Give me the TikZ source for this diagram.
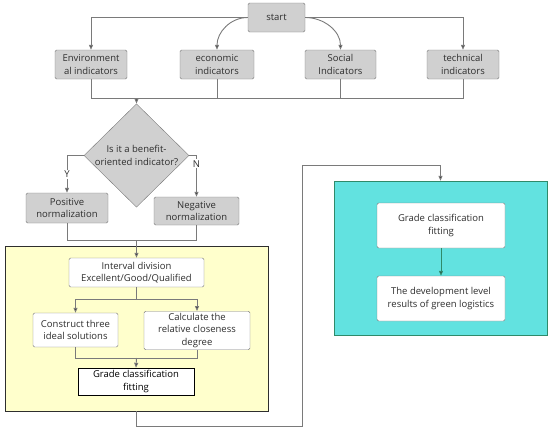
\documentclass[tikz,border=0pt]{standalone}
\usepackage{fontspec}
\setmainfont{Open Sans}
\usetikzlibrary{arrows.meta, positioning, shapes.geometric}
\definecolor{boxgray}{HTML}{D0D0D0}
\definecolor{edgegray}{HTML}{7A7A7A}
\definecolor{textgray}{HTML}{2E2E2E}
\definecolor{stageyellow}{HTML}{FFFFCC}
\definecolor{stageteal}{HTML}{62E2E0}
\definecolor{tealedge}{HTML}{2F8A6A}

\begin{document}
\begin{tikzpicture}[
    x=1pt, y=-1pt,
    font=\fontsize{9.5}{12.5}\selectfont,
    every node/.style={align=center, text=textgray},
    gbox/.style={rectangle, draw=edgegray, rounded corners=1.5pt, fill=boxgray, minimum height=29pt, inner sep=2pt},
    wbox/.style={rectangle, draw=edgegray, rounded corners=1.5pt, fill=white, inner sep=2pt},
    decide/.style={diamond, draw=edgegray, fill=boxgray, minimum width=105pt, minimum height=77pt, inner sep=0pt},
    stage/.style={rectangle, inner sep=0pt},
    gline/.style={draw=edgegray, line width=0.9pt},
    line/.style={draw=edgegray, line width=0.9pt, arrows={-{Triangle[length=5pt,width=4pt,fill=textgray]}}},
    lab/.style={fill=white, inner sep=1pt}
]
\useasboundingbox (0,0) rectangle (550,431);
% background stages
\node[stage, draw=textgray, fill=stageyellow, minimum width=263pt, minimum height=165pt] (evalstage) at (136.5,328.5) {};
\node[stage, draw=tealedge, fill=stageteal, minimum width=213pt, minimum height=154pt] (resultstage) at (440.5,258) {};

% indicators
\node[gbox, minimum width=57pt] (start) at (276.5,17.5) {start};
\node[gbox, minimum width=72pt] (env) at (91,64.5) {Environment\\al indicators};
\node[gbox, minimum width=74pt] (econ) at (217,64.5) {economic\\indicators};
\node[gbox, minimum width=71pt] (social) at (340.5,64.5) {Social\\Indicators};
\node[gbox, minimum width=72pt] (tech) at (463,64.5) {technical\\indicators};

% normalization
\node[decide] (benefit) at (136.5,155.5) {Is it a benefit-\\oriented indicator?};
\node[gbox, minimum width=82pt, minimum height=30pt] (posnorm) at (67,208) {Positive\\normalization};
\node[gbox, minimum width=85pt, minimum height=28pt] (negnorm) at (196.5,211) {Negative\\normalization};

% evaluation
\node[wbox, minimum width=135pt, minimum height=29pt] (interval) at (136.5,272.5) {Interval division\\Excellent/Good/Qualified};
\node[wbox, minimum width=85pt, minimum height=34pt] (ideal) at (75.5,330) {Construct three\\ideal solutions};
\node[wbox, minimum width=106pt, minimum height=37pt] (closeness) at (197,330.5) {Calculate the\\relative closeness\\degree};
\node[rectangle, draw=black, fill=white, text=black, minimum width=116pt, minimum height=27pt, inner sep=2pt] (grade) at (136,381.5) {Grade classification\\fitting};

% results
\node[wbox, minimum width=128pt, minimum height=45pt] (fitting) at (441,225.5) {Grade classification\\fitting};
\node[wbox, minimum width=128pt, minimum height=45pt] (level) at (441,298.5) {The development level\\results of green logistics};

\coordinate (collect) at (136.5,98);
\coordinate (joinnorm) at (136.5,240);
\coordinate (split) at (136.5,299);
\coordinate (joineval) at (136.5,358);
\coordinate (lowturn) at (302,426);
\coordinate (highturn) at (302,165);

\draw[line] (start.west) -| (env.north);
\draw[line] (start.east) -| (tech.north);
\draw[line] (start.west) to[out=180, in=90] (econ.north);
\draw[line] (start.east) to[out=0, in=90] (social.north);
\draw[gline] (env.south) |- (collect);
\draw[gline] (tech.south) |- (collect);
\draw[gline] (econ.south) -- (econ.south |- collect);
\draw[gline] (social.south) -- (social.south |- collect);
\draw[line] (collect) -- (benefit.north);
\draw[line] (benefit.west) -| node[lab, pos=0.75] {Y} (posnorm.north);
\draw[line] (benefit.east) -| node[lab, pos=0.6] {N} (negnorm.north);
\draw[gline] (posnorm.south) |- (joinnorm);
\draw[gline] (negnorm.south) |- (joinnorm);
\draw[line] (joinnorm) -- (interval.north);
\draw[gline] (interval.south) -- (split);
\draw[line] (split) -| (ideal.north);
\draw[line] (split) -| (closeness.north);
\draw[gline] (ideal.south) |- (joineval);
\draw[gline] (closeness.south) |- (joineval);
\draw[line] (joineval) -- (grade.north);
\draw[line] (evalstage.south) |- (lowturn) -- (highturn) -| (resultstage.north);
\draw[line, draw=tealedge] (fitting) -- (level);
\end{tikzpicture}
\end{document}
